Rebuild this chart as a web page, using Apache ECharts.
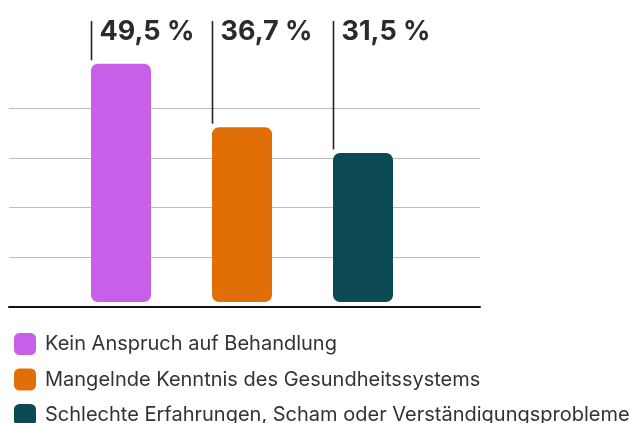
<!DOCTYPE html>
<html>
<head>
<meta charset="UTF-8">
<script src="https://cdn.jsdelivr.net/npm/echarts@6/dist/echarts.min.js"></script>
<style>
  html, body { margin: 0; padding: 0; background: #fff; }
  #chart { width: 629px; height: 423px; }
</style>
</head>
<body>
<div id="chart"></div>
<script>
var categories = [
    'Kein Anspruch auf Behandlung',
    'Mangelnde Kenntnis des Gesundheitssystems',
    'Schlechte Erfahrungen, Scham oder Verständigungsprobleme'
];
var values = [49.5, 36.7, 31.5];
var valueLabels = ['49,5 %', '36,7 %', '31,5 %'];
var colors = ['#c75fe9', '#e06f08', '#0b4a54'];

var FONT = 'Inter, "Noto Sans", sans-serif';
var gridTop = 108.3, gridBottom = 116.5;

// bar + leader line + value text
function renderBar(params, api) {
    var idx = api.value(0);
    var top = api.coord([idx, api.value(1)]);
    var base = api.coord([idx, 0]);
    var w = 60;
    var x0 = Math.round(top[0] - w / 2);
    return {
        type: 'group',
        children: [
            {
                type: 'rect',
                shape: { x: x0, y: top[1] + 2.5, width: w, height: base[1] - top[1] - 7, r: 7 },
                style: { fill: api.visual('color') }
            },
            {
                type: 'line',
                shape: { x1: x0 + 0.5, y1: 21, x2: x0 + 0.5, y2: top[1] - 1 },
                style: { stroke: '#222', lineWidth: 1.6 }
            },
            {
                type: 'text',
                x: x0 + 8.5,
                y: 32,
                style: {
                    text: valueLabels[idx],
                    font: 'bold 27px ' + FONT,
                    fill: '#2b2b2b',
                    verticalAlign: 'middle'
                }
            }
        ]
    };
}

var series = [];
categories.forEach(function (name, i) {
    series.push({
        type: 'custom',
        name: name,
        xAxisIndex: 1,
        yAxisIndex: 1,
        itemStyle: { color: colors[i] },
        renderItem: renderBar,
        data: [[i, values[i]]]
    });
});

var chart = echarts.init(document.getElementById('chart'));
chart.setOption({
    animation: false,
    grid: [
        { left: 9, right: 149, top: gridTop, bottom: gridBottom },
        { left: 60, right: 206, top: gridTop, bottom: gridBottom }
    ],
    xAxis: [
        {
            gridIndex: 0, type: 'value', min: 0, max: 1,
            axisLine: { show: true, lineStyle: { color: '#111', width: 2 } },
            axisTick: { show: false }, axisLabel: { show: false }, splitLine: { show: false }
        },
        {
            gridIndex: 1, type: 'category', data: categories, show: false
        }
    ],
    yAxis: [
        {
            gridIndex: 0, type: 'value', min: 0, max: 40, interval: 10,
            axisLine: { show: false }, axisTick: { show: false }, axisLabel: { show: false },
            splitLine: { show: true, lineStyle: { color: '#bdbdbd', width: 1 } }
        },
        {
            gridIndex: 1, type: 'value', min: 0, max: 40, show: false, splitLine: { show: false }
        }
    ],
    legend: {
        data: categories,
        orient: 'vertical',
        left: 9,
        top: 328,
        height: 95,
        itemWidth: 22,
        itemHeight: 22,
        itemGap: 13.5,
        icon: 'roundRect',
        textStyle: { fontFamily: FONT, fontSize: 20, color: '#333', padding: [0, 0, 0, 4] }
    },
    series: series
});
</script>
</body>
</html>
